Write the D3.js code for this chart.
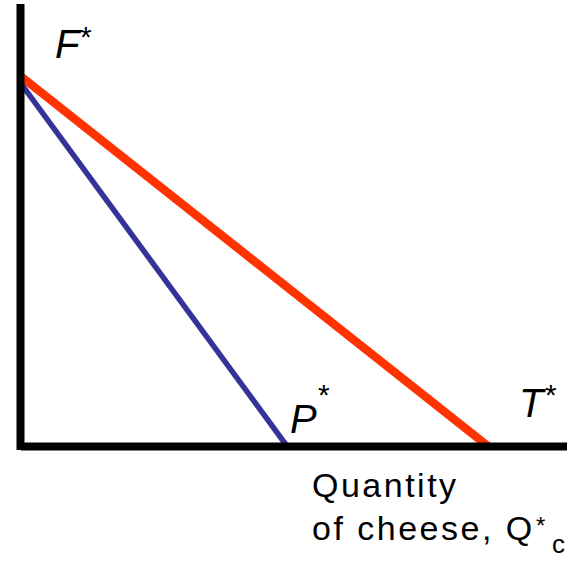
<!DOCTYPE html>
<html>
<head>
<meta charset="utf-8">
<script src="https://cdn.jsdelivr.net/npm/d3@7"></script>
<style>
  body { margin: 0; background: #fff; }
  svg { display: block; }
  text { font-family: "Liberation Sans", Arial, sans-serif; fill: #000; }
</style>
</head>
<body>
<div id="chart"></div>
<script>
// axis units are arbitrary, only the intercepts matter
var qDomain = [0, 10];
var pDomain = [0, 10];

// each line goes from its price intercept down to its quantity intercept
var lineNames = ["F*T*", "F*P*"];
var lineColors = ["#ff3300", "#333399"];
var qIntercepts = [8.55, 4.87];
var pIntercepts = [8.36, 8.2];

var W = 567, H = 561;
var originX = 21, originY = 446;

var svg = d3.select("#chart").append("svg")
  .attr("width", W).attr("height", H);

var x = d3.scaleLinear().domain(qDomain).range([originX, W]);
var y = d3.scaleLinear().domain(pDomain).range([originY, 4]);

var line = d3.line()
  .x(function (d) { return x(d.q); })
  .y(function (d) { return y(d.p); });

var data = lineNames.map(function (name, i) {
  return {
    name: name,
    color: lineColors[i],
    width: i === 0 ? 8.5 : 5.5,
    pts: [{ q: 0, p: pIntercepts[i] }, { q: qIntercepts[i], p: 0 }]
  };
});

svg.selectAll("path.budget")
  .data(data)
  .enter()
  .append("path")
  .classed("budget", true)
  .attr("d", function (d) { return line(d.pts); })
  .attr("fill", "none")
  .attr("stroke", function (d) { return d.color; })
  .attr("stroke-width", function (d) { return d.width; });

// axes (drawn on top so lines tuck under them)
svg.append("line")
  .attr("x1", x(0) - 0.5).attr("x2", x(0) - 0.5)
  .attr("y1", y(pDomain[1])).attr("y2", y(0) + 4)
  .attr("stroke", "#000").attr("stroke-width", 8);
svg.append("line")
  .attr("x1", x(0)).attr("x2", x(qDomain[1]))
  .attr("y1", y(0) + 0.5).attr("y2", y(0) + 0.5)
  .attr("stroke", "#000").attr("stroke-width", 8);

// point labels
function starLabel(letter, lx, ly, sx, sy) {
  svg.append("text").attr("x", lx).attr("y", ly)
    .attr("font-size", 40).attr("font-style", "italic").text(letter);
  svg.append("text").attr("x", sx).attr("y", sy)
    .attr("font-size", 30).text("*");
}
starLabel("F", 55, 58, 80, 47);
starLabel("P", 290, 433, 318, 405);
starLabel("T", 519, 417, 545, 405);

// axis title
var title = svg.append("g").style("letter-spacing", "2.5px");
title.append("text").attr("x", 312).attr("y", 497)
  .attr("font-size", 34).text("Quantity");
title.append("text").attr("x", 312).attr("y", 540)
  .attr("font-size", 34).text("of cheese, Q");
title.append("text").attr("x", 536).attr("y", 534)
  .attr("font-size", 24).text("*");
svg.append("text").attr("x", 552).attr("y", 553)
  .attr("font-size", 26).text("c");
</script>
</body>
</html>
